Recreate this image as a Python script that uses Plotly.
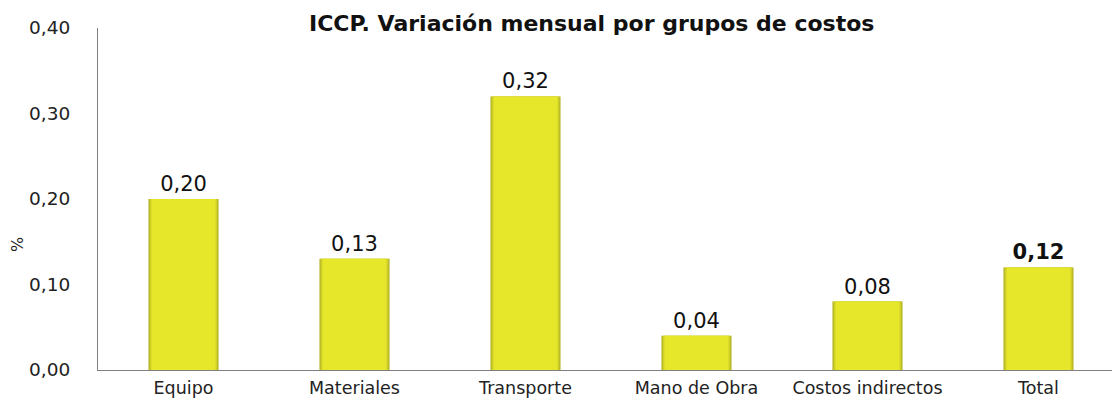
import plotly.graph_objects as go

categories = ["Equipo", "Materiales", "Transporte", "Mano de Obra", "Costos indirectos", "Total"]
values = [0.20, 0.13, 0.32, 0.04, 0.08, 0.12]
y_ticks = [0.0, 0.1, 0.2, 0.3, 0.4]

labels = [f"{v:.2f}".replace(".", ",") for v in values]
labels[-1] = "<b>" + labels[-1] + "</b>"

FONT = "DejaVu Sans"

fig = go.Figure()
# layered bars for a bevelled look
for w, c in [(0.41, "#B5B526"), (0.395, "#CFCF29"), (0.375, "#E6E62A")]:
    fig.add_trace(go.Bar(
        x=categories, y=values, width=w,
        marker=dict(color=c, line=dict(width=0)),
        hoverinfo="skip", showlegend=False,
    ))
fig.add_trace(go.Bar(
    x=categories, y=values, width=0.375,
    marker=dict(color="rgba(0,0,0,0)", line=dict(width=0)),
    text=labels, textposition="outside", cliponaxis=False,
    textfont=dict(family=FONT, size=21, color="#111111"),
    showlegend=False,
))

fig.update_layout(
    barmode="overlay",
    width=1114, height=400,
    margin=dict(l=98, r=2, t=28, b=30, autoexpand=False),
    plot_bgcolor="white", paper_bgcolor="white",
    separators=",.",
    font=dict(family=FONT, size=15, color="#222222"),
    annotations=[
        dict(
            text="<b>ICCP. Variación mensual por grupos de costos</b>",
            x=(591 - 98) / 1014, y=1.0 + (28 - 23) / 342, xref="paper", yref="paper",
            showarrow=False, font=dict(family=FONT, size=22, color="#111111"),
            xanchor="center", yanchor="middle",
        ),
        dict(
            text="%", textangle=-90,
            x=(17 - 98) / 1014, y=(370 - 245) / 342, xref="paper", yref="paper",
            showarrow=False, font=dict(family=FONT, size=16, color="#222222"),
            xanchor="center", yanchor="middle",
        ),
    ],
)

fig.update_xaxes(
    range=[-0.5, 5.43], showline=True, linecolor="#7f7f7f", linewidth=1,
    ticks="", showgrid=False, automargin=False,
    tickfont=dict(family=FONT, size=17.5, color="#222222"),
    ticklabelstandoff=2,
)
fig.update_yaxes(
    range=[0, 0.4], tickvals=y_ticks, tickformat=".2f",
    showline=True, linecolor="#7f7f7f", linewidth=1,
    ticks="", showgrid=False, zeroline=False, automargin=False,
    tickfont=dict(family=FONT, size=18.5, color="#222222"),
    ticklabelstandoff=23,
)

fig.write_html(
    "out.html",
    config={"displayModeBar": False},
    post_script="document.body.style.margin='0';document.body.style.overflow='hidden';",
)
